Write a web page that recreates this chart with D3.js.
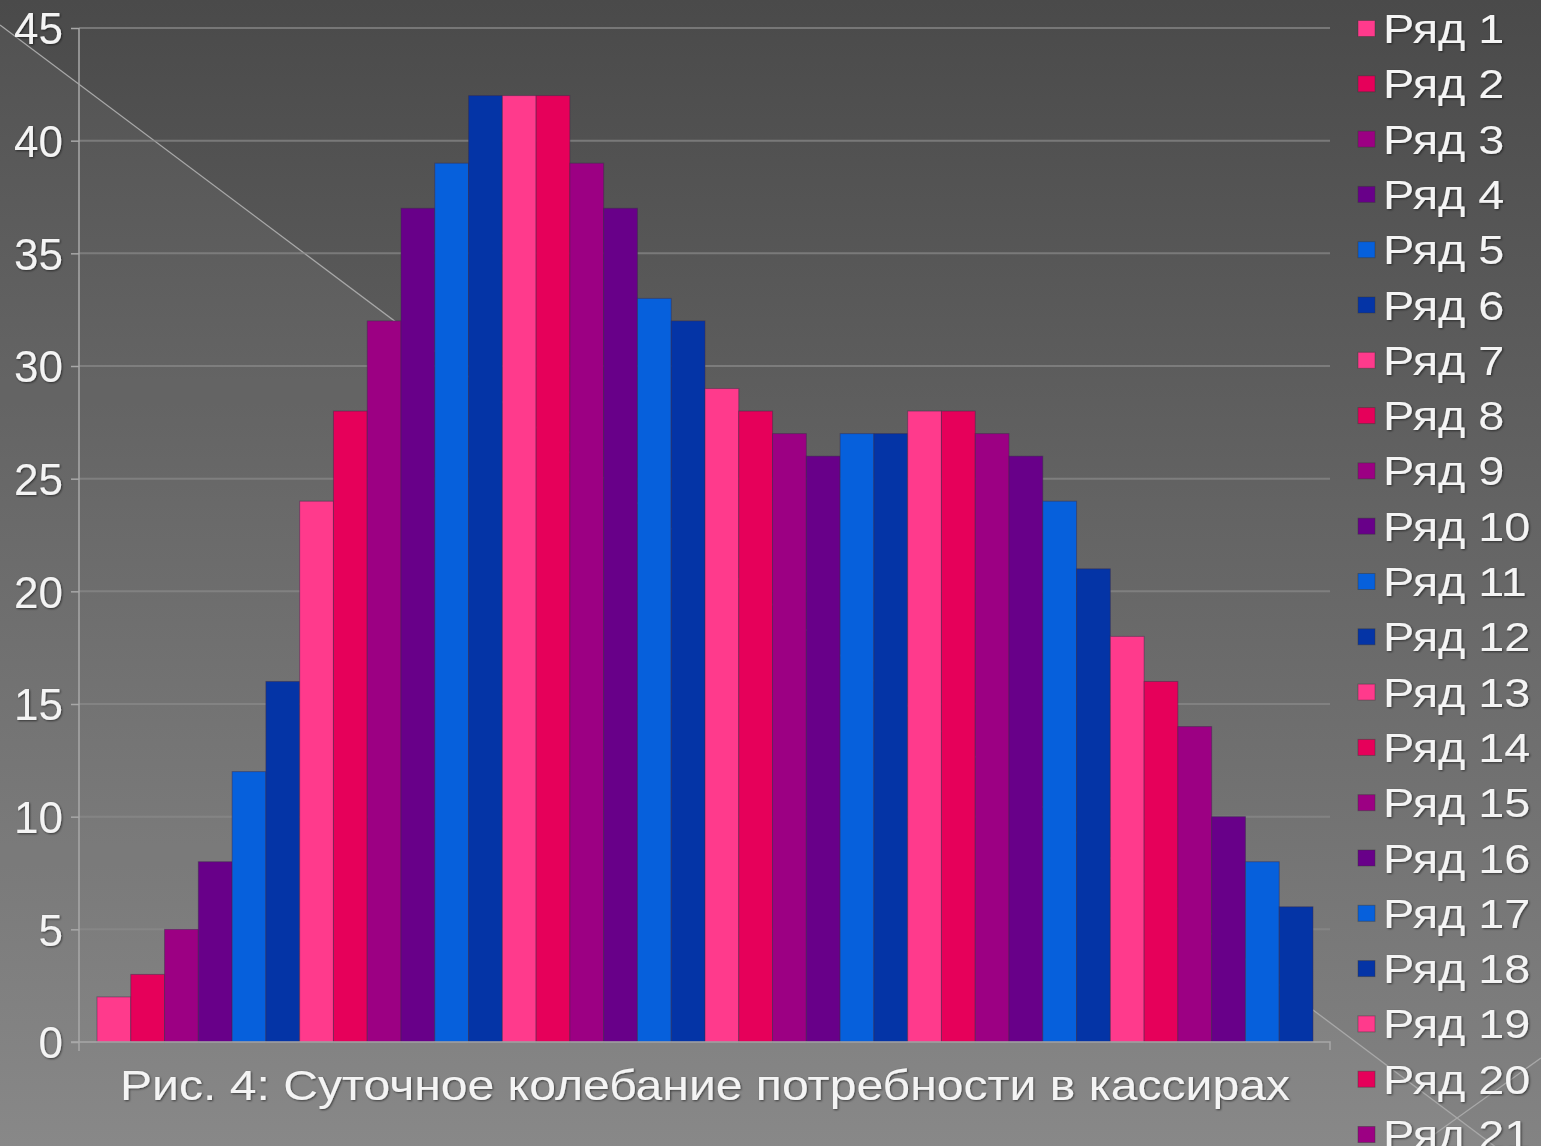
<!DOCTYPE html>
<html>
<head>
<meta charset="utf-8">
<script src="https://cdn.jsdelivr.net/npm/d3@7"></script>
<style>
  html, body { margin: 0; padding: 0; background: #5a5a5a; }
  svg { display: block; }
  text { font-family: "Liberation Sans", Arial, sans-serif; fill: #f4f4f4; }
</style>
</head>
<body>
<svg id="chart" width="1541" height="1146"></svg>
<script>
// Hourly cashier demand: one bar per series
const seriesNames = d3.range(1, 37).map(i => "Ряд " + i);
const seriesValues = [2, 3, 5, 8, 12, 16, 24, 28, 32, 37, 39, 42,
                      42, 42, 39, 37, 33, 32, 29, 28, 27, 26, 27, 27,
                      28, 28, 27, 26, 24, 21, 18, 16, 14, 10, 8, 6];
const palette = ["#ff3a8c", "#e6005a", "#9c0083", "#680089", "#0660dc", "#0434a6"];
const yTicks = [0, 5, 10, 15, 20, 25, 30, 35, 40, 45];
const captionText = "Рис. 4: Суточное колебание потребности в кассирах";

const W = 1541, H = 1146;
const svg = d3.select("#chart");
const defs = svg.append("defs");

// slide background: vertical grey gradient
const bg = defs.append("linearGradient").attr("id", "bg")
  .attr("x1", 0).attr("y1", 0).attr("x2", 0).attr("y2", 1);
bg.append("stop").attr("offset", 0).attr("stop-color", "#4a4a4a");
bg.append("stop").attr("offset", 1).attr("stop-color", "#838383");

const shadow = defs.append("filter").attr("id", "shadow")
  .attr("x", "-5%").attr("y", "-20%").attr("width", "110%").attr("height", "140%");
shadow.append("feDropShadow").attr("dx", 1).attr("dy", 1)
  .attr("stdDeviation", 1).attr("flood-color", "#000").attr("flood-opacity", 0.55);

svg.append("rect").attr("width", W).attr("height", H).attr("fill", "url(#bg)");

// decorative diagonals of the slide
svg.append("path")
  .attr("d", `M0,25 L${W},1181 L0,1181 Z`)
  .attr("fill", "#ffffff").attr("opacity", 0.045);
svg.append("line").attr("x1", 0).attr("y1", 25).attr("x2", W).attr("y2", 1181)
  .attr("stroke", "#a8a8a8").attr("stroke-width", 1.3);
svg.append("line").attr("x1", W).attr("y1", 1058).attr("x2", 1418).attr("y2", 1146)
  .attr("stroke", "#a8a8a8").attr("stroke-width", 1.3);

// scales
const plot = { left: 79, right: 1330, top: 28, bottom: 1042 };
const y = d3.scaleLinear().domain([0, 45]).range([plot.bottom, plot.top]);
const x = d3.scaleBand().domain(seriesNames).range([97, 1313]).padding(0);
const color = d3.scaleOrdinal().domain(seriesNames)
  .range(seriesNames.map((d, i) => palette[i % palette.length]));

// gridlines
svg.append("g")
  .selectAll("line").data(yTicks.filter(t => t > 0)).join("line")
  .attr("x1", plot.left).attr("x2", plot.right)
  .attr("y1", d => y(d)).attr("y2", d => y(d))
  .attr("stroke", "#8a8a8a").attr("stroke-width", 2).attr("opacity", 0.7);

// bars
svg.append("g")
  .selectAll("rect").data(seriesNames).join("rect")
  .attr("x", d => x(d))
  .attr("y", (d, i) => y(seriesValues[i]))
  .attr("width", x.bandwidth())
  .attr("height", (d, i) => y(0) - y(seriesValues[i]))
  .attr("fill", d => color(d))
  .attr("stroke", "#3a2a4a").attr("stroke-opacity", 0.45).attr("stroke-width", 1);

// value axis
const yAxis = d3.axisLeft(y).tickValues(yTicks).tickSize(8).tickPadding(8);
const gy = svg.append("g").attr("transform", `translate(${plot.left},0)`).call(yAxis);
gy.select(".domain").attr("stroke", "#a8a8a8").attr("stroke-width", 1.5)
  .attr("d", `M0,${plot.top}V${plot.bottom + 9}`);
gy.selectAll(".tick line").attr("stroke", "#a8a8a8").attr("stroke-width", 1.5);
gy.selectAll(".tick text")
  .attr("font-size", 44).attr("fill", "#f4f4f4").attr("dy", "0.36em")
  .attr("filter", "url(#shadow)")
  .style("font-family", '"Liberation Sans", Arial, sans-serif');

// category axis
svg.append("path")
  .attr("d", `M${plot.left - 8},${plot.bottom}H${plot.right}V${plot.bottom + 8}`)
  .attr("fill", "none").attr("stroke", "#a8a8a8").attr("stroke-width", 1.5);

// caption under the plot
svg.append("text")
  .attr("x", 120).attr("y", 1100)
  .attr("font-size", 42)
  .attr("textLength", 1170).attr("lengthAdjust", "spacingAndGlyphs")
  .attr("filter", "url(#shadow)")
  .text(captionText);

// legend: rows run down the right edge; only those starting on the slide are drawn,
// and the last one is cut by the slide's bottom edge
const rowStep = 55.3, rowTop = 28.5;
const shownRows = seriesNames.filter((d, i) => rowTop + i * rowStep - 8 < H - 12);
const legend = svg.append("g");
const row = legend.selectAll("g").data(shownRows).join("g")
  .attr("transform", (d, i) => `translate(0,${rowTop + i * rowStep})`);
row.append("rect")
  .attr("x", 1358).attr("y", -8).attr("width", 17).attr("height", 16)
  .attr("fill", d => color(d))
  .attr("stroke", "#333").attr("stroke-opacity", 0.4).attr("stroke-width", 1);
row.append("text")
  .attr("transform", "translate(1383,14.5) scale(1.17,1)")
  .attr("font-size", 40)
  .attr("filter", "url(#shadow)")
  .text(d => d);
</script>
</body>
</html>
